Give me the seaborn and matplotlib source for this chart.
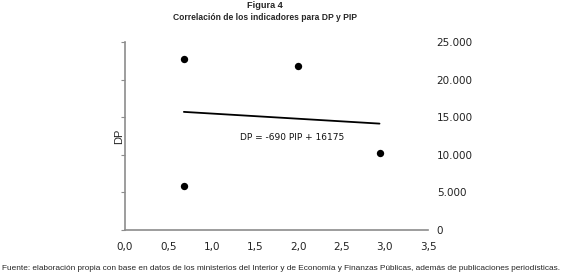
import pandas as pd
import matplotlib
matplotlib.use("Agg")
import matplotlib.pyplot as plt
import matplotlib.ticker as mticker
import seaborn as sns

# values
pip = [0.68, 0.68, 2.00, 2.94]
dp = [22800, 5800, 21800, 10300]
slope = -690
intercept = 16175
eqLabel = "DP = -690 PIP + 16175"
titleLine1 = "Figura 4"
titleLine2 = "Correlación de los indicadores para DP y PIP"
sourceNote = ("Fuente: elaboración propia con base en datos de los ministerios del Interior y de "
              "Economía y Finanzas Públicas, además de publicaciones periodísticas.")

data = pd.DataFrame({"PIP": pip, "DP": dp})

sns.set_style("white")
plt.rcParams['font.family'] = ['DejaVu Sans']

fig = plt.figure(figsize=(5.74, 2.77), dpi=100)
ax = fig.add_axes([0.2178, 0.1697, 0.5278, 0.6787])

sns.scatterplot(data=data, x="PIP", y="DP", color="black", s=28, edgecolor="black", linewidth=0, ax=ax, zorder=3)

# trend line from the printed equation, over the range of the data
lineX = [min(pip), max(pip)]
lineY = [slope * v + intercept for v in lineX]
sns.lineplot(x=lineX, y=lineY, color="black", linewidth=1.3, ax=ax)

ax.text(1.935, 12300, eqLabel, ha="center", va="center", fontsize=6.5, color="#111111")

ax.set_xlim(0, 3.5)
ax.set_ylim(0, 25000)
ax.set_xticks([0, 0.5, 1, 1.5, 2, 2.5, 3, 3.5])
ax.set_yticks([0, 5000, 10000, 15000, 20000, 25000])
ax.xaxis.set_major_formatter(mticker.FuncFormatter(lambda v, p: f"{v:.1f}".replace(".", ",")))
ax.yaxis.set_major_formatter(mticker.FuncFormatter(lambda v, p: f"{int(v):,}".replace(",", ".")))

for s in ["top", "right"]:
    ax.spines[s].set_visible(False)
for s in ["left", "bottom"]:
    ax.spines[s].set_color("#8c8c8c")
    ax.spines[s].set_linewidth(1.2)

ax.tick_params(axis="x", direction="out", length=3, color="#8c8c8c", labelsize=7.5, pad=6, labelcolor="#222222")
ax.tick_params(axis="y", direction="out", length=3, color="#8c8c8c", labelsize=7.5, labelcolor="#222222",
               labelleft=False, labelright=True, right=False, left=True, pad=3.3)

ax.set_xlabel("")
ax.set_ylabel("DP", fontsize=8, family=['Liberation Sans', 'DejaVu Sans'])
ax.yaxis.set_label_coords(-0.004, 0.5)

narrow = ['Liberation Sans', 'DejaVu Sans']
fig.text(265 / 574, 1 - 6 / 277, titleLine1, ha="center", va="center", fontsize=6.6, fontweight="bold", family=narrow)
fig.text(265 / 574, 1 - 18 / 277, titleLine2, ha="center", va="center", fontsize=6.15, fontweight="bold", family=narrow)
fig.text(2 / 574, 1 - 268 / 277, sourceNote, ha="left", va="center", fontsize=5.98, family=narrow)

fig.savefig("out.png", dpi=100)
